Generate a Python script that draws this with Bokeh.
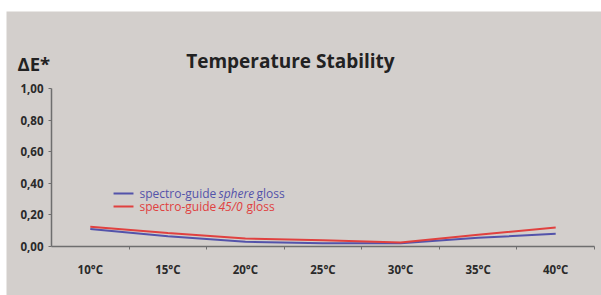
from bokeh.plotting import figure
from bokeh.models import Range1d, FixedTicker, CustomJSTickFormatter, Spacer
from bokeh.layouts import column, row
from bokeh.core.properties import value
from bokeh.embed import file_html
from bokeh.resources import INLINE

# ---- data ----
temps = ["10°C", "15°C", "20°C", "25°C", "30°C", "35°C", "40°C"]
sphere_gloss = [0.11, 0.065, 0.03, 0.02, 0.02, 0.055, 0.08]
g450_gloss = [0.125, 0.085, 0.05, 0.04, 0.025, 0.075, 0.12]
y_ticks = [0.0, 0.2, 0.4, 0.6, 0.8, 1.0]
legend1_parts = ["spectro-guide", "sphere", "gloss"]
legend2_parts = ["spectro-guide", "45/0", "gloss"]
title_text = "Temperature Stability"
y_title = "ΔE*"

BG = "#d3cfcc"
BLUE = "#5353aa"
RED = "#e0413f"
AXIS = "#6e6e6e"
TXT = "#2a2a2a"
FONT = "Open Sans"

n = len(temps)
xc = [i + 0.5 for i in range(n)]
bounds = [float(i) for i in range(1, n + 1)]

W, H = 595, 284
p = figure(width=W, height=H, output_backend="svg", toolbar_location=None,
           x_range=Range1d(-0.58, -0.58 + W / 77.57),
           y_range=Range1d(-(H - 235) / 158.0, 1.487),
           min_border_left=0, min_border_right=0, min_border_top=0, min_border_bottom=0)
p.background_fill_color = BG
p.border_fill_color = BG
p.outline_line_color = None
p.xgrid.visible = False
p.ygrid.visible = False

# axes
xa = p.xaxis[0]
xa.fixed_location = 0
xa.bounds = (0, n)
xa.ticker = FixedTicker(ticks=xc, minor_ticks=bounds)
xa.formatter = CustomJSTickFormatter(args=dict(labels=temps),
                                     code="return labels[Math.round(tick - 0.5)] || '';")
xa.major_tick_out = 0
xa.major_tick_in = 0
xa.minor_tick_out = 3
xa.minor_tick_in = 0
xa.minor_tick_line_color = AXIS
xa.major_label_standoff = 13

ya = p.yaxis[0]
ya.fixed_location = 0
ya.bounds = (0, 1)
ya.ticker = FixedTicker(ticks=y_ticks, minor_ticks=[])
ya.formatter = CustomJSTickFormatter(code="return tick.toFixed(2).replace('.', ',');")
ya.major_tick_out = 3
ya.major_tick_in = 0
ya.minor_tick_out = 0
ya.major_label_standoff = 5

for ax in (xa, ya):
    ax.axis_line_color = AXIS
    ax.axis_line_width = 1.5
    ax.major_tick_line_color = AXIS
    ax.major_label_text_font = FONT
    ax.major_label_text_font_style = "bold"
    ax.major_label_text_color = TXT
xa.major_label_text_font_size = "11.5px"
ya.major_label_text_font_size = "11.5px"

# series
p.line(xc, sphere_gloss, line_color=BLUE, line_width=2)
p.line(xc, g450_gloss, line_color=RED, line_width=2)

# manual legend
leg_x0, leg_x1, leg_tx = 0.80, 1.057, 1.134
rows = [(0.335, BLUE, legend1_parts, [0, 79, 117]),
        (0.253, RED, legend2_parts, [0, 79, 107])]
for yy, col, parts, offs in rows:
    p.line([leg_x0, leg_x1], [yy, yy], line_color=col, line_width=2)
    for part, off, style in zip(parts, offs, ["normal", "italic", "normal"]):
        p.text(x=[leg_tx], y=[yy], text=[part], x_offset=off,
               text_font=value(FONT), text_font_size="12px", text_font_style=style,
               text_color=col, text_baseline="middle", text_align="left")

# titles
p.text(x=[3.08], y=[1.175], text=[title_text], text_font=value(FONT),
       text_font_size="19px", text_font_style="bold", text_color="#222222",
       text_align="center", text_baseline="middle")
p.text(x=[-0.438], y=[1.16], text=[y_title], text_font=value(FONT),
       text_font_size="18.5px", text_font_style="bold", text_color="#222222",
       text_align="left", text_baseline="middle")

layout = column(Spacer(height=11), row(Spacer(width=6), p))
open("out.html", "w").write(file_html(layout, INLINE))
